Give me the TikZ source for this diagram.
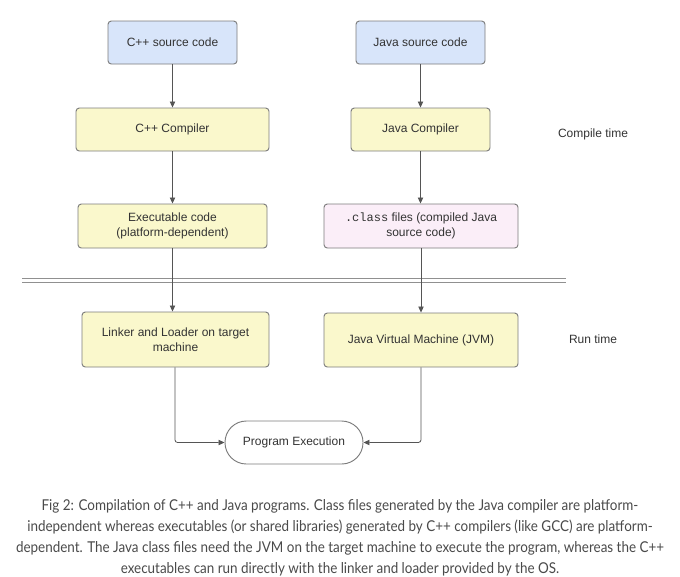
\documentclass[tikz,border=0pt]{standalone}
\usepackage{fontspec}
\setmainfont{Liberation Sans}
\setmonofont{Liberation Mono}
\newfontfamily\capfont[FakeStretch=0.9]{Lato}
\usetikzlibrary{arrows.meta}

\definecolor{srcblue}{HTML}{D8E5FA}
\definecolor{stepyellow}{HTML}{FAF8CC}
\definecolor{classpink}{HTML}{FBEEF8}
\definecolor{edgegray}{HTML}{7C7C7C}
\definecolor{linkgray}{HTML}{555555}
\definecolor{textgray}{HTML}{333333}
\definecolor{capgray}{HTML}{4A4A4A}

\tikzset{
  procbox/.style={draw=edgegray, line width=0.7pt, rounded corners=2.5pt,
    align=center, text=textgray, font=\fontsize{9}{11.5}\selectfont,
    inner sep=0pt},
  srcbox/.style={procbox, fill=srcblue},
  toolbox/.style={procbox, fill=stepyellow},
  classbox/.style={procbox, fill=classpink},
  endbox/.style={procbox, fill=white, rounded corners=16pt},
  flow/.style={draw=linkgray, line width=0.6pt,
    -{Triangle[length=4.5pt,width=4pt]}},
  phase/.style={text=textgray, font=\fontsize{9}{11}\selectfont},
  divider/.style={draw=edgegray!85, line width=0.7pt}
}

\begin{document}
\begin{tikzpicture}[x=0.75pt,y=-0.75pt]
\useasboundingbox (0,0) rectangle (680,576);

% source files
\node[srcbox, minimum width={129*0.75pt}, minimum height={43*0.75pt}]
  (cppsrc) at (172.5,42.5) {C++ source code};
\node[srcbox, minimum width={129*0.75pt}, minimum height={43*0.75pt}]
  (javasrc) at (420.5,42.5) {Java source code};

% compilers
\node[toolbox, minimum width={193*0.75pt}, minimum height={43*0.75pt}]
  (cppc) at (172.5,129.5) {C++ Compiler};
\node[toolbox, minimum width={139*0.75pt}, minimum height={43*0.75pt}]
  (javac) at (420.5,129.5) {Java Compiler};

% compiled output
\node[toolbox, minimum width={189*0.75pt}, minimum height={44*0.75pt}]
  (exe) at (172.5,226) {Executable code\\(platform-dependent)};
\node[classbox, minimum width={194*0.75pt}, minimum height={44*0.75pt}]
  (cls) at (421,226) {\texttt{.class} files (compiled Java\\source code)};

% run-time components
\node[toolbox, minimum width={187*0.75pt}, minimum height={55*0.75pt}]
  (link) at (175.5,339.5) {Linker and Loader on target\\machine};
\node[toolbox, minimum width={194*0.75pt}, minimum height={54*0.75pt}]
  (jvm) at (421,340) {Java Virtual Machine (JVM)};

% terminal
\node[endbox, minimum width={138*0.75pt}, minimum height={43*0.75pt}]
  (exec) at (294,442.5) {Program Execution};

% phase labels
\node[phase] (compiletime) at (593,134) {Compile time};
\node[phase] (runtime) at (593,339.5) {Run time};

% compile / run boundary
\coordinate (divL) at (22,278);
\coordinate (divR) at (566,278);
\draw[divider] (divL) -- (divR);
\draw[divider] ([yshift=-3pt]divL) -- ([yshift=-3pt]divR);

% connectors
\draw[flow] (cppsrc.south) -- (cppc.north);
\draw[flow] (javasrc.south) -- (javac.north);
\draw[flow] (cppc.south) -- (cppc.south |- exe.north);
\draw[flow] (javac.south) -- (javac.south |- cls.north);
\draw[flow] (exe.south) -- (exe.south |- link.north);
\draw[flow] (cls.south) -- (cls.south |- jvm.north);
\draw[flow, rounded corners=2pt] ([xshift=-0.4pt]link.south) |- (exec.west);
\draw[flow, rounded corners=2pt] (jvm.south) |- (exec.east);

% caption
\node[text=capgray, font=\capfont\fontsize{11.2}{15.8}\selectfont, align=center]
  (caption) at (340,537.5) {Fig 2: Compilation of C++ and Java programs. Class files generated by the Java compiler are platform-\\
independent whereas executables (or shared libraries) generated by C++ compilers (like GCC) are platform-\\
dependent. The Java class files need the JVM on the target machine to execute the program, whereas the C++\\
executables can run directly with the linker and loader provided by the OS.};
\end{tikzpicture}
\end{document}
